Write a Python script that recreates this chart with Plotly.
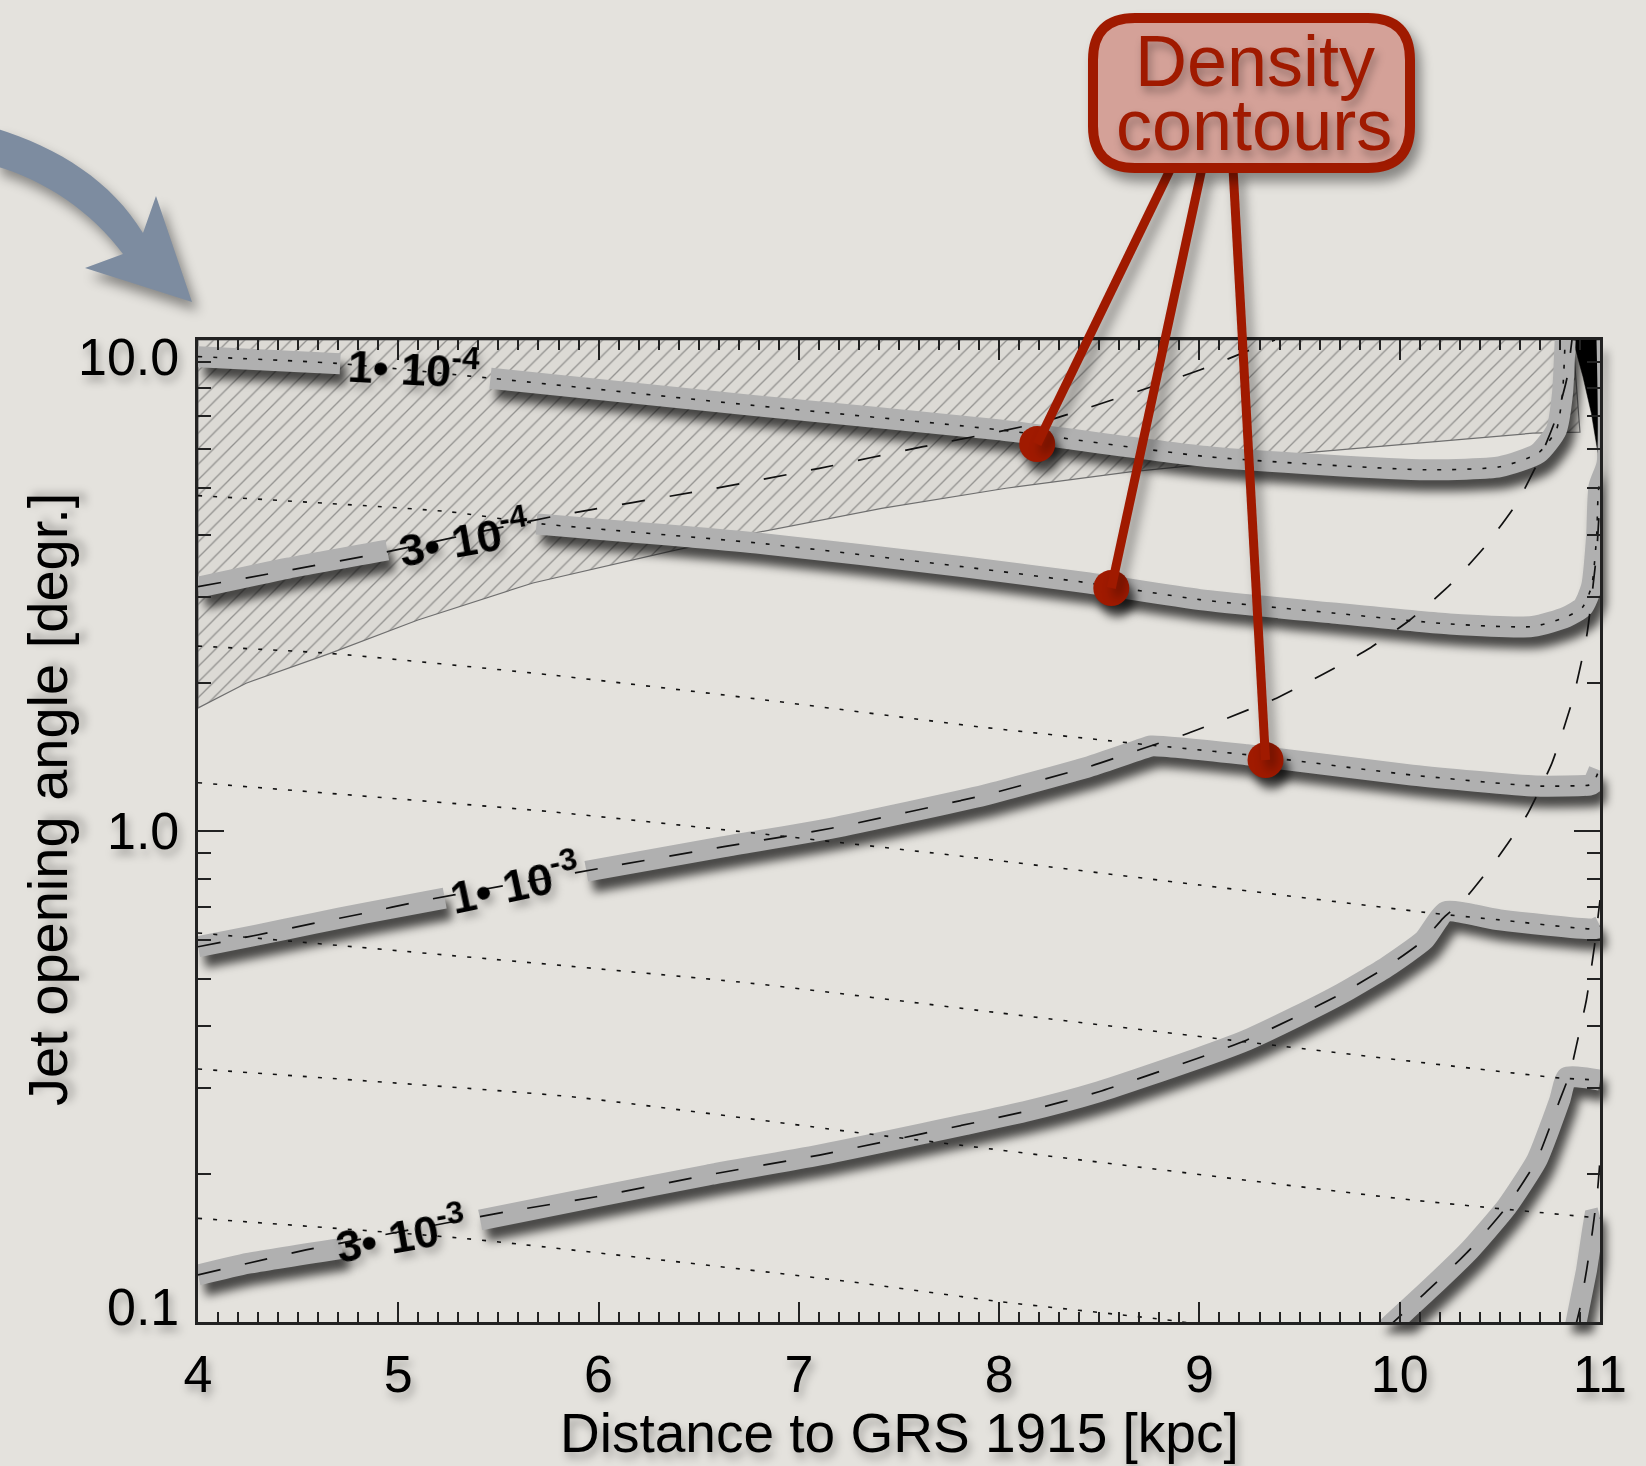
import json
import numpy as np
import plotly.graph_objects as go

# ---------------- data (x: distance in kpc, y: opening angle in degrees) ----------------
x_tick_vals = [4, 5, 6, 7, 8, 9, 10, 11]
y_tick_vals = [0.1, 1.0, 10.0]
y_tick_text = ["0.1", "1.0", "10.0"]
y_minor_vals = [0.2, 0.3, 0.4, 0.5, 0.6, 0.7, 0.8, 0.9, 2, 3, 4, 5, 6, 7, 8, 9]

# dotted constraint lines (one per density level)
dot_1e4_x = [4.0, 4.696, 5.461, 6.756, 8.004, 9.052, 10.134, 10.50, 10.691, 10.782, 10.812, 10.826]
dot_1e4_y = [9.25, 8.96, 8.36, 7.37, 6.56, 5.78, 5.44, 5.52, 5.88, 6.56, 7.73, 10.0]
dot_3e4_x = [4.0, 5.251, 5.671, 6.791, 7.827, 8.448, 9.002, 9.666, 10.25, 10.665, 10.833, 10.914, 10.958, 10.983, 10.995, 11.035, 11.035]
dot_3e4_y = [4.82, 4.47, 4.24, 3.86, 3.45, 3.20, 2.96, 2.78, 2.64, 2.61, 2.73, 2.86, 3.15, 3.98, 5.03, 5.6, 10.0]
dot_1e3_x = [4.0, 4.659, 5.757, 6.78, 7.9, 8.73, 9.237, 10.061, 10.678, 10.945, 10.965, 10.995]
dot_1e3_y = [2.38, 2.30, 2.08, 1.86, 1.63, 1.50, 1.43, 1.30, 1.235, 1.24, 1.25, 1.33]
dot_3e3_x = [4.0, 5.757, 6.791, 7.827, 9.002, 10.164, 10.5, 10.965, 11.0]
dot_3e3_y = [1.254, 1.095, 0.989, 0.887, 0.776, 0.680, 0.659, 0.632, 0.64]
dot_1e2_x = [4.0, 6.756, 8.004, 9.156, 10.80, 11.0]
dot_1e2_y = [0.620, 0.490, 0.426, 0.375, 0.314, 0.311]
dot_3e2_x = [4.0, 5.862, 7.255, 8.004, 10.061, 11.0]
dot_3e2_y = [0.3275, 0.2876, 0.2442, 0.2240, 0.1772, 0.1628]
dot_1e1_x = [4.0, 5.320, 7.255, 8.004, 8.908, 9.25]
dot_1e1_y = [0.1626, 0.1481, 0.1208, 0.1100, 0.1001, 0.0941]

# dashed constraint lines
dash_3e4_x = [4.0, 4.907, 5.767, 6.585, 7.102, 7.620, 8.220, 9.002, 9.292, 9.377]
dash_3e4_y = [3.145, 3.678, 4.366, 4.99, 5.479, 6.063, 6.817, 8.687, 9.69, 10.0]
dash_1e3_x = [4.0, 4.296, 4.582, 4.83, 5.098, 6.053, 6.626, 7.162, 7.930, 8.448, 8.696, 8.944,
              9.136, 9.385, 9.610, 9.835, 10.051, 10.251, 10.425, 10.584, 10.700, 10.783, 10.833, 10.86]
dash_1e3_y = [0.581, 0.614, 0.649, 0.680, 0.718, 0.846, 0.929, 1.013, 1.184, 1.352, 1.462, 1.581,
              1.696, 1.864, 2.078, 2.336, 2.690, 3.170, 3.793, 4.650, 5.742, 6.979, 8.288, 10.0]
dash_3e3_x = [4.0, 4.25, 4.539, 5.543, 5.989, 6.546, 7.103, 8.127, 8.498, 8.992, 9.237, 9.485, 9.711,
              9.936, 10.121, 10.216, 10.329, 10.493, 10.635, 10.760, 10.863, 10.933, 10.983, 11.0]
dash_3e3_y = [0.1247, 0.1317, 0.1402, 0.1678, 0.1799, 0.1993, 0.2188, 0.2682, 0.2944, 0.3444, 0.3753,
              0.419, 0.4670, 0.5292, 0.5998, 0.6641, 0.7305, 0.8866, 1.078, 1.375, 1.849, 2.487, 3.683, 4.788]
dash_1e2_x = [9.926, 10.143, 10.349, 10.534, 10.685, 10.799, 10.850, 10.881, 10.932, 10.972, 11.0]
dash_1e2_y = [0.0963, 0.1162, 0.1402, 0.1717, 0.2138, 0.2831, 0.3210, 0.3637, 0.4527, 0.5813, 0.7236]
dash_3e2_x = [10.873, 10.898, 10.933, 10.963, 10.988, 11.0]
dash_3e2_y = [0.0963, 0.1058, 0.1276, 0.1539, 0.1857, 0.2138]

# thick grey density contours (None = gap for the in-line label)
cont_1e4_x = [4.0, 4.71, None, 5.46, 6.756, 8.004, 9.052, 10.134, 10.50, 10.691, 10.782, 10.812, 10.826]
cont_1e4_y = [9.25, 8.95, None, 8.36, 7.37, 6.56, 5.78, 5.44, 5.52, 5.88, 6.56, 7.73, 10.0]
cont_3e4_x = [4.0, 4.45, 4.945, None, 5.69, 6.791, 7.827, 8.448, 9.002, 9.666, 10.25, 10.665, 10.833,
              10.914, 10.958, 10.983, 10.995, 11.035, 11.035]
cont_3e4_y = [3.135, 3.43, 3.735, None, 4.22, 3.86, 3.45, 3.20, 2.96, 2.78, 2.64, 2.61, 2.73,
              2.86, 3.15, 3.98, 5.03, 5.6, 10.0]
cont_1e3_x = [4.0, 4.296, 4.582, 4.83, 5.232, None, 5.939, 6.626, 7.162, 7.930, 8.448, 8.696, 8.76,
              9.237, 10.061, 10.678, 10.945, 10.965, 10.995]
cont_1e3_y = [0.581, 0.614, 0.649, 0.680, 0.730, None, 0.828, 0.929, 1.013, 1.184, 1.352, 1.462, 1.49,
              1.43, 1.30, 1.235, 1.24, 1.25, 1.33]
cont_3e3_x = [4.0, 4.25, 4.719, None, 5.409, 5.989, 6.546, 7.103, 8.127, 8.498, 8.992, 9.237, 9.485,
              9.711, 9.936, 10.121, 10.23, 10.5, 10.965, 11.0]
cont_3e3_y = [0.1247, 0.1317, 0.1413, None, 0.1613, 0.1799, 0.1993, 0.2188, 0.2682, 0.2944, 0.3444,
              0.3753, 0.419, 0.4670, 0.5292, 0.5998, 0.685, 0.659, 0.632, 0.64]
cont_1e2_x = [9.926, 10.143, 10.349, 10.534, 10.685, 10.799, 10.835, 11.0]
cont_1e2_y = [0.0963, 0.1162, 0.1402, 0.1717, 0.2138, 0.2831, 0.315, 0.311]
cont_3e2_x = [10.873, 10.898, 10.933, 10.963, 10.972, 11.0]
cont_3e2_y = [0.0963, 0.1058, 0.1276, 0.1539, 0.162, 0.163]

# hatched (excluded) region and black region
hatch_x = [4.0, 4.0, 4.24, 4.659, 5.098, 5.672, 6.356, 6.771, 7.413, 8.034, 8.653, 9.002, 9.567,
           10.665, 10.90, 10.865, 4.0]
hatch_y = [10.0, 1.78, 2.00, 2.30, 2.69, 3.20, 3.71, 4.04, 4.54, 4.99, 5.39, 5.57, 5.91,
           6.46, 6.49, 10.0, 10.0]
black_x = [10.865, 10.915, 10.957, 10.990, 11.0, 11.0, 10.865]
black_y = [10.0, 8.42, 7.09, 5.88, 5.19, 10.0, 10.0]

# contour labels
label_text = ["1\u2022 10<sup>-4</sup>", "3\u2022 10<sup>-4</sup>",
              "1\u2022 10<sup>-3</sup>", "3\u2022 10<sup>-3</sup>"]
label_x = [5.078, 5.328, 5.578, 5.013]
label_y = [8.85, 3.97, 0.788, 0.1518]
label_angle = [3, -10, -12, -10]

# callout target points on the contours
callout_x = [8.19, 8.56, 9.33]
callout_y = [6.14, 3.125, 1.395]

# ---------------- styling helpers ----------------
FONT = "Liberation Sans, Arial, Helvetica, sans-serif"
BG = "#e4e2dd"
GREY = "#b0b0b0"
RED = "#a01a00"

# layout geometry (pixels of the 1646x1466 canvas)
W, H = 1646, 1466
ML, MR, MT, MB = 198, 46, 340, 144
PW, PH = W - ML - MR, H - MT - MB


def px2paper(px, py):
    return (px - ML) / PW, (H - MB - py) / PH


def P(px, py):
    a, b = px2paper(px, py)
    return f"{a:.5f},{b:.5f}"


fig = go.Figure()

# 0: hatched region
fig.add_trace(go.Scatter(
    x=hatch_x, y=hatch_y, mode="lines", fill="toself",
    fillcolor="rgba(0,0,0,0.03)",
    fillpattern=dict(shape="/", size=11, solidity=0.12, fgcolor="#474747",
                     bgcolor="rgba(0,0,0,0.035)"),
    line=dict(color="#6f6f6f", width=1.2), hoverinfo="skip", showlegend=False))
# 1: black region
fig.add_trace(go.Scatter(
    x=black_x, y=black_y, mode="lines", fill="toself", fillcolor="#000000",
    line=dict(color="#000000", width=0.5), hoverinfo="skip", showlegend=False))

# grey contours
contours = [(cont_1e4_x, cont_1e4_y, 0.6), (cont_3e4_x, cont_3e4_y, 0.6),
            (cont_1e3_x, cont_1e3_y, 0.5), (cont_3e3_x, cont_3e3_y, 0.5),
            (cont_1e2_x, cont_1e2_y, 0.5), (cont_3e2_x, cont_3e2_y, 0.0)]
shadow_idx = []
for cx, cy, sm in contours:
    shadow_idx.append(len(fig.data))
    shp = "spline" if sm > 0 else "linear"
    fig.add_trace(go.Scatter(x=cx, y=cy, mode="lines", connectgaps=False,
                             line=dict(color=GREY, width=21, shape=shp, smoothing=max(sm, 0.1)),
                             hoverinfo="skip", showlegend=False))

# thin dotted lines
for dx, dy, sm in [(dot_1e4_x, dot_1e4_y, 0.6), (dot_3e4_x, dot_3e4_y, 0.6),
                   (dot_1e3_x, dot_1e3_y, 0.5), (dot_3e3_x, dot_3e3_y, 0.5),
                   (dot_1e2_x, dot_1e2_y, 0.5), (dot_3e2_x, dot_3e2_y, 0.5),
                   (dot_1e1_x, dot_1e1_y, 0.5)]:
    fig.add_trace(go.Scatter(x=dx, y=dy, mode="lines",
                             line=dict(color="#111111", width=1.6, dash="4px,11px",
                                       shape="spline", smoothing=sm),
                             hoverinfo="skip", showlegend=False))
# thin dashed lines
for dx, dy, sm in [(dash_3e4_x, dash_3e4_y, 0.6), (dash_1e3_x, dash_1e3_y, 0.5),
                   (dash_3e3_x, dash_3e3_y, 0.5), (dash_1e2_x, dash_1e2_y, 0.5),
                   (dash_3e2_x, dash_3e2_y, 0.5)]:
    fig.add_trace(go.Scatter(x=dx, y=dy, mode="lines",
                             line=dict(color="#111111", width=1.7, dash="23px,25px",
                                       shape="spline", smoothing=sm),
                             hoverinfo="skip", showlegend=False))

# red callout dots
shadow_idx.append(len(fig.data))
fig.add_trace(go.Scatter(x=callout_x, y=callout_y, mode="markers", cliponaxis=False,
                         marker=dict(color=RED, size=36, line=dict(width=0)),
                         hoverinfo="skip", showlegend=False))

# ---------------- shapes: arrow, callout lines, box ----------------
shapes = []
arrow_path = (f"M {P(-5,128)} C {P(60,148)} {P(112,182)} {P(143,233)} "
              f"L {P(156,196)} L {P(192,302)} L {P(85,268)} L {P(123,254)} "
              f"C {P(92,212)} {P(45,180)} {P(-5,166)} Z")
shapes.append(dict(type="path", xref="paper", yref="paper", path=arrow_path,
                   fillcolor="#7d8ca0", line=dict(width=0), layer="above"))

starts = [(1171, 168), (1202, 168), (1233, 168)]
for (sx, sy), tx, ty in zip(starts, callout_x, callout_y):
    x0, y0 = px2paper(sx, sy)
    x1 = (tx - 4) / 7
    y1 = (np.log10(ty) + 1) / 2
    shapes.append(dict(type="line", xref="paper", yref="paper", x0=x0, y0=y0, x1=x1, y1=y1,
                       line=dict(color=RED, width=9), layer="above"))

# rounded box
bx0, by0, bx1, by1, r = 1093, 18, 1410, 168, 42
box_path = (f"M {P(bx0+r,by0)} L {P(bx1-r,by0)} Q {P(bx1,by0)} {P(bx1,by0+r)} "
            f"L {P(bx1,by1-r)} Q {P(bx1,by1)} {P(bx1-r,by1)} "
            f"L {P(bx0+r,by1)} Q {P(bx0,by1)} {P(bx0,by1-r)} "
            f"L {P(bx0,by0+r)} Q {P(bx0,by0)} {P(bx0+r,by0)} Z")
shapes.append(dict(type="path", xref="paper", yref="paper", path=box_path,
                   fillcolor="#d4a198", line=dict(color=RED, width=10), layer="above"))

# ---------------- annotations ----------------
ann = []
for t, lx, ly, la in zip(label_text, label_x, label_y, label_angle):
    ann.append(dict(x=lx, y=float(np.log10(ly)), xref="x", yref="y", text=f"<b>{t}</b>",
                    showarrow=False, textangle=la, xanchor="center", yanchor="middle",
                    font=dict(family=FONT, size=45, color="#000000")))
# y tick labels
y_shift = {"10.0": -17, "1.0": 0, "0.1": 15}
for v, t in zip(y_tick_vals, y_tick_text):
    ann.append(dict(x=-0.012, xref="paper", y=float(np.log10(v)), yref="y", text=t,
                    showarrow=False, xanchor="right", yanchor="middle", yshift=y_shift[t],
                    font=dict(family=FONT, size=52, color="#000000")))
# axis titles
xa, ya = px2paper(900, 1433)
ann.append(dict(x=0.5, y=ya, xref="paper", yref="paper", text="Distance to GRS 1915 [kpc]",
                showarrow=False, xanchor="center", yanchor="middle",
                font=dict(family=FONT, size=55, color="#000000")))
xa, ya = px2paper(47, 800)
ann.append(dict(x=xa, y=ya, xref="paper", yref="paper", text="Jet opening angle [degr.]",
                showarrow=False, xanchor="center", yanchor="middle", textangle=-90,
                font=dict(family=FONT, size=56, color="#000000")))
# callout text (two lines set tightly, as in the original)
a, b = px2paper(1255, 61)
ann.append(dict(x=a, y=b, xref="paper", yref="paper", text="Density", showarrow=False,
                xanchor="center", yanchor="middle",
                font=dict(family=FONT, size=72, color=RED)))
a, b = px2paper(1254, 125)
ann.append(dict(x=a, y=b, xref="paper", yref="paper", text="contours", showarrow=False,
                xanchor="center", yanchor="middle",
                font=dict(family=FONT, size=72, color=RED)))

fig.update_layout(
    width=W, height=H, margin=dict(l=ML, r=MR, t=MT, b=MB, pad=0),
    paper_bgcolor=BG, plot_bgcolor=BG, showlegend=False,
    font=dict(family=FONT, color="#000000"),
    shapes=shapes, annotations=ann,
)
fig.update_xaxes(range=[4, 11], showgrid=False, zeroline=False, showline=True,
                 linecolor="#222222", linewidth=2.5, mirror="allticks",
                 ticks="inside", ticklen=20, tickwidth=2, tickcolor="#222222",
                 tickmode="array", tickvals=x_tick_vals,
                 ticktext=[str(v) for v in x_tick_vals],
                 tickfont=dict(family=FONT, size=52, color="#000000"),
                 ticklabelstandoff=5,
                 minor=dict(ticks="inside", ticklen=10, tickwidth=1.5, tickcolor="#222222",
                            dtick=0.1, showgrid=False))
fig.update_yaxes(type="log", range=[-1, 1], showgrid=False, zeroline=False, showline=True,
                 linecolor="#222222", linewidth=2.5, mirror="allticks",
                 ticks="inside", ticklen=26, tickwidth=2, tickcolor="#222222",
                 tickmode="array", tickvals=y_tick_vals, showticklabels=False,
                 minor=dict(ticks="inside", ticklen=13, tickwidth=1.5, tickcolor="#222222",
                            tickmode="array", tickvals=y_minor_vals, showgrid=False))

post = """
var gd = document.getElementById('{plot_id}');
var idx = %s;
function addShadows(){
  var tr = gd.querySelectorAll('.scatterlayer .trace');
  tr.forEach(function(t, i){
    if (idx.indexOf(i) >= 0) { t.style.filter = 'drop-shadow(6px 11px 5px rgba(0,0,0,0.68))'; }
  });
  gd.querySelectorAll('.xtick text, .annotation-text').forEach(function(e){
    e.style.filter = 'drop-shadow(3px 6px 4px rgba(0,0,0,0.30))';
  });
  gd.querySelectorAll('.shapelayer path').forEach(function(e){
    e.style.filter = 'drop-shadow(6px 9px 6px rgba(0,0,0,0.40))';
  });
}
addShadows();
gd.on('plotly_afterplot', addShadows);
""" % json.dumps(shadow_idx)

fig.write_html("out.html", post_script=post)
